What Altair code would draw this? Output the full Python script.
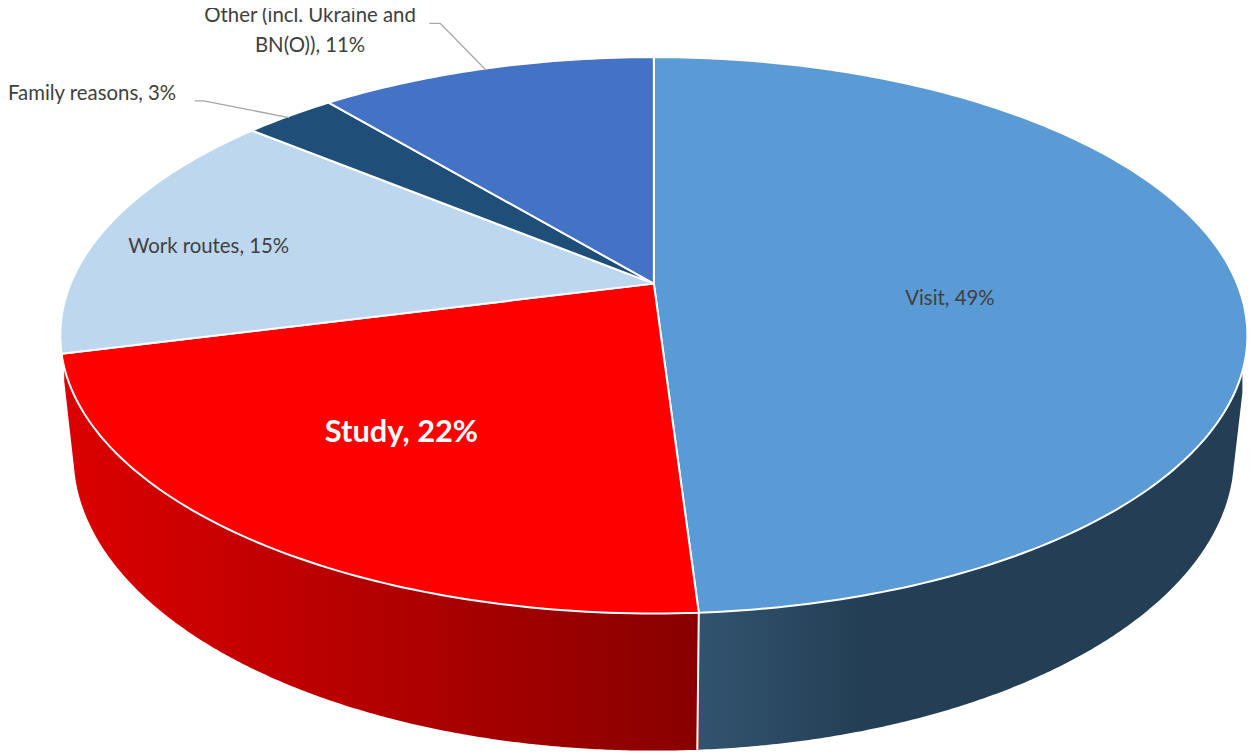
import math
import altair as alt
import pandas as pd

categories = ["Visit", "Study", "Work routes", "Family reasons", "Other (incl. Ukraine and BN(O))"]
shares = [49, 22, 15, 3, 11]
colors = ["#5B9BD5", "#FF0000", "#BDD7EE", "#1F4E79", "#4472C4"]
label_lines = [["Visit, 49%"], ["Study, 22%"], ["Work routes, 15%"], ["Family reasons, 3%"],
               ["Other (incl. Ukraine and", "BN(O)), 11%"]]

# ---- layout of the tilted disc (image pixels) ----
W, H, M = 1256, 755, 8
CX, CY, F, G, K = 658.0, 283.0, 587.0, 270.3, 0.1857
LOW_CY, LOW_A, LOW_B = 456.0, 584.0, 297.0


def disc(theta_deg):
    t = math.radians(theta_deg)
    X, Y = math.sin(t), math.cos(t)
    d = 1 + K * Y
    return CX + F * X / d, CY - G * Y / d


def low_y(x):
    return LOW_CY + LOW_B * math.sqrt(max(0.0, 1 - ((x - CX) / LOW_A) ** 2))


# ---- top face: one polygon per share ----
features = []
cum = 0
for cat, sh, col in zip(categories, shares, colors):
    a0, a1 = cum * 3.6, (cum + sh) * 3.6
    cum += sh
    n = max(8, int(sh * 4))
    ring = [[CX, CY]] + [list(disc(a0 + (a1 - a0) * i / n)) for i in range(n + 1)] + [[CX, CY]]
    ring = ring[::-1]
    features.append({"type": "Feature", "properties": {"name": cat, "fill": col},
                     "geometry": {"type": "Polygon", "coordinates": [ring]}})


# ---- side walls, hung under the front edge of the first two shares ----
def wall(a0, a1, y_start, xs_edge, xt):
    rows = []
    n = 260
    for i in range(n + 1):
        x, y = disc(a0 + (a1 - a0) * i / n)
        if y < y_start:
            continue
        rows.append((x, y))
    rows.sort()
    out = []
    ty = low_y(xt)
    for x, y in rows:
        if (xs_edge < xt and x < xt) or (xs_edge > xt and x > xt):
            y2 = y_start + (ty - y_start) * (x - xs_edge) / (xt - xs_edge)
        else:
            y2 = low_y(x)
        out.append({"x": x, "y": y, "y2": max(y, y2)})
    return pd.DataFrame(out)


split1 = shares[0] * 3.6
split2 = (shares[0] + shares[1]) * 3.6
blue_wall = wall(90, split1, 370, 1253, 1240.5)
red_wall = wall(split1, split2, 367, 63, 75.5)

xs = alt.Scale(domain=[M, W], nice=False, zero=False)
ys = alt.Scale(domain=[H, M], nice=False, zero=False)
X = lambda f="x": alt.X(f"{f}:Q", scale=xs, axis=None)
Y = lambda f="y": alt.Y(f"{f}:Q", scale=ys, axis=None)

red_x0, red_x1 = 63, 703
red_fill = alt.Gradient(gradient="linear", x1=0, x2=1, y1=0, y2=0,
                        stops=[alt.GradientStop(color="#DC0000", offset=0),
                               alt.GradientStop(color="#880000", offset=1)])
blue_fill = alt.Gradient(gradient="linear", x1=0, x2=1, y1=0, y2=0,
                         stops=[alt.GradientStop(color="#32536F", offset=0),
                                alt.GradientStop(color="#243F55", offset=0.3),
                                alt.GradientStop(color="#243F55", offset=1)])

red_layer = alt.Chart(red_wall).mark_area(fill=red_fill, line=False, interpolate="linear").encode(
    x=X(), y=Y(), y2="y2:Q")
blue_layer = alt.Chart(blue_wall).mark_area(fill=blue_fill, line=False, interpolate="linear").encode(
    x=X(), y=Y(), y2="y2:Q")

sx, sy = disc(split1)
sep = pd.DataFrame([{"x": sx, "y": sy}, {"x": sx - 1.5, "y": low_y(sx)}])
sep_layer = alt.Chart(sep).mark_line(color="#FFFFFF", strokeWidth=2).encode(x=X(), y=Y())

top_layer = alt.Chart(alt.Data(values=features)).mark_geoshape(
    stroke="#FFFFFF", strokeWidth=2, strokeJoin="round"
).encode(fill=alt.Fill("properties.fill:N", scale=None)).project(
    type="identity", scale=1, translate=[-M, -M])

# ---- leader lines and labels ----
leader_other = pd.DataFrame({"x": [432, 443, 488], "y": [21, 21, 67]})
leader_family = pd.DataFrame({"x": [196, 205, 291], "y": [99, 99, 116]})
lead1 = alt.Chart(leader_other).mark_line(color="#A6A6A6", strokeWidth=1.3).encode(x=X(), y=Y(), order=alt.Order("x:Q"))
lead2 = alt.Chart(leader_family).mark_line(color="#A6A6A6", strokeWidth=1.3).encode(x=X(), y=Y(), order=alt.Order("x:Q"))

label_x = [956, 404, 210, 8, 312]
label_y = [299, 433, 246, 92, 14]
label_gap = 30
label_align = ["center", "center", "center", "left", "center"]
label_color = ["#404040", "#FFFFFF", "#404040", "#404040", "#404040"]
label_weight = ["normal", "bold", "normal", "normal", "normal"]
label_size = [20.5, 31, 20.5, 20.5, 20.5]

text_layers = []
for lines, lx, ly, al, c, wt, sz in zip(label_lines, label_x, label_y, label_align, label_color, label_weight, label_size):
    df = pd.DataFrame({"x": [lx] * len(lines), "y": [ly + i * label_gap for i in range(len(lines))], "t": lines})
    text_layers.append(
        alt.Chart(df).mark_text(font="Lato", fontSize=sz, fontWeight=wt, color=c, align=al, baseline="middle")
        .encode(x=X(), y=Y(), text="t:N"))

chart = alt.layer(blue_layer, red_layer, sep_layer, top_layer, lead1, lead2, *text_layers).properties(
    width=W - M, height=H - M, padding=0, background="#FFFFFF",
    autosize=alt.AutoSizeParams(type="none")
).configure_view(stroke=None)

chart.save("out.html", embed_options={"renderer": "svg", "actions": False})
